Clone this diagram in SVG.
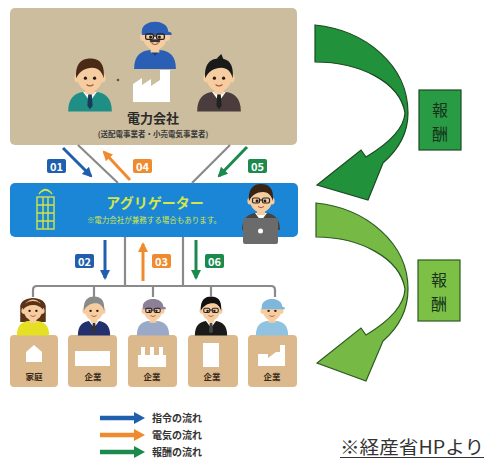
<svg xmlns="http://www.w3.org/2000/svg" width="486" height="461" viewBox="0 0 486 461">
  <style>
    text { font-family: "Noto Sans CJK JP", "Noto Sans", sans-serif; }
    .skin { fill: #f6cda0; }
    .eye { fill: #2a1a10; }
    .mouth { fill: none; stroke: #b0503a; stroke-width: 1; }
    .gline { stroke: #8a8a8a; stroke-width: 2.2; fill: none; }
    .tag-t { fill: #fff; font-size: 11px; font-weight: 700; text-anchor: middle; }
    .lbl { fill: #3a2a1a; font-size: 8.5px; font-weight: 700; text-anchor: middle; }
    .leg { fill: #333; font-size: 10px; font-weight: 700; }
    .reward { fill: #15321a; font-size: 16px; text-anchor: middle; }
    .site { fill: #dbb98d; }
    .icon { fill: #fff; }
  </style>
  <defs>
    <marker id="ah-blue" viewBox="0 0 10 10" refX="8" refY="5" markerWidth="10" markerHeight="10" markerUnits="userSpaceOnUse" orient="auto"><path d="M0,0 L10,5 L0,10 Z" fill="#1f5fae"/></marker>
    <marker id="ah-orange" viewBox="0 0 10 10" refX="8" refY="5" markerWidth="10" markerHeight="10" markerUnits="userSpaceOnUse" orient="auto"><path d="M0,0 L10,5 L0,10 Z" fill="#ef8a2e"/></marker>
    <marker id="ah-green" viewBox="0 0 10 10" refX="8" refY="5" markerWidth="10" markerHeight="10" markerUnits="userSpaceOnUse" orient="auto"><path d="M0,0 L10,5 L0,10 Z" fill="#1b8a4c"/></marker>
    <!-- generic head + shoulders, head centred on 0,0 -->
    <g id="face">
      <rect class="skin" x="-4" y="8" width="8" height="7"/>
      <ellipse class="skin" cx="-11" cy="1" rx="2.6" ry="3.6"/>
      <ellipse class="skin" cx="11" cy="1" rx="2.6" ry="3.6"/>
      <ellipse class="skin" cx="0" cy="0" rx="11" ry="12.5"/>
      <circle class="eye" cx="-4" cy="1" r="1.4"/>
      <circle class="eye" cx="4" cy="1" r="1.4"/>
      <path class="mouth" d="M-3,6.5 Q0,9 3,6.5"/>
    </g>
    <path id="shoulders" d="M-19,30 C-19,18 -13,14 -6,13 L6,13 C13,14 19,18 19,30 Z"/>
    <path id="collar" d="M-6,13 L0,21 L6,13 Z" fill="#fff"/>
    <path id="tie" d="M-1.5,15 L1.5,15 L2.3,25 L0,28 L-2.3,25 Z"/>
    <path id="hair-short" d="M-12,1 C-13,-13 -6,-16 0,-16 C8,-16 13,-12 12,1 C10,-5 7,-8 2,-8 C-4,-8 -9,-5 -12,1 Z"/>
    <path id="cap" d="M-12,-4 C-12,-16 12,-16 12,-4 L15,-3 L15,-1 L-12,-1 Z"/>
    <g id="glasses" fill="none" stroke="#222" stroke-width="1.2">
      <rect x="-8.5" y="-2" width="7" height="5" rx="1.5"/>
      <rect x="1.5" y="-2" width="7" height="5" rx="1.5"/>
      <path d="M-1.5,0 L1.5,0"/>
    </g>
  </defs>

  <rect width="486" height="461" fill="#fff"/>

  <!-- power company -->
  <g id="power-company">
    <rect x="10" y="8" width="287" height="137" rx="5" fill="#ccbd9e"/>
    <!-- field worker -->
    <g transform="translate(155,36) scale(1.1)">
      <use href="#shoulders" fill="#2a5fb5"/>
      <path d="M-5,13 L0,18 L5,13 Z" fill="#1c3f80"/>
      <use href="#face"/>
      <use href="#cap" fill="#2a5fb5"/>
      <use href="#glasses"/>
      <path d="M-5,4 Q0,2 5,4 L4,6 Q0,5 -4,6 Z" fill="#333"/>
    </g>
    <!-- factory -->
    <path d="M133,102 L133,84 L142,78 L142,85 L151,79 L151,86 L160,80 L160,70 L170,70 L170,102 Z" fill="#fff"/>
    <circle cx="118" cy="80" r="1.3" fill="#555"/>
    <!-- staff left -->
    <g transform="translate(90,77) scale(1.15)">
      <use href="#shoulders" fill="#1f8f86"/>
      <use href="#collar"/>
      <use href="#tie" fill="#1a3a5a"/>
      <use href="#face"/>
      <use href="#hair-short" fill="#4a2a14"/>
    </g>
    <!-- staff right -->
    <g transform="translate(219,77) scale(1.15)">
      <use href="#shoulders" fill="#4b3d3d"/>
      <use href="#collar"/>
      <use href="#tie" fill="#222"/>
      <use href="#face"/>
      <use href="#hair-short" fill="#1a1a1a"/>
      <path d="M-2,-16 L2,-20 L4,-15 Z" fill="#1a1a1a"/>
    </g>
    <text x="153" y="123" text-anchor="middle" font-size="13" font-weight="700" fill="#2a2a2a">電力会社</text>
    <text x="153" y="137" text-anchor="middle" font-size="7.5" font-weight="700" fill="#3a3a3a">(送配電事業者・小売電気事業者)</text>
  </g>

  <!-- aggregator -->
  <g id="aggregator">
    <rect x="10" y="183" width="288" height="54" rx="5" fill="#1b86d5"/>
    <!-- office building -->
    <g fill="none" stroke="#cfe34a" stroke-width="1.4">
      <rect x="37" y="197" width="17" height="32"/>
      <path d="M37,205 H54 M37,213 H54 M37,221 H54 M43,197 V229 M48,197 V229"/>
      <path d="M41,192 Q45.5,188 50,192 M39,194 Q45.5,185 52,194"/>
    </g>
    <text x="155" y="208" text-anchor="middle" font-size="14" font-weight="700" fill="#d3e64a">アグリゲーター</text>
    <text x="154" y="223" text-anchor="middle" font-size="7.5" fill="#d3e64a">※電力会社が兼務する場合もあります。</text>
    <!-- consultant with laptop -->
    <g transform="translate(261,200)">
      <use href="#shoulders" fill="#444"/>
      <use href="#collar"/>
      <use href="#face"/>
      <use href="#hair-short" fill="#3a2414"/>
      <use href="#glasses" stroke="#8a4a1a"/>
    </g>
    <rect x="243" y="218" width="35" height="26" rx="2" fill="#6b6b6b"/>
    <circle cx="260.5" cy="231" r="2.5" fill="#fff"/>
  </g>

  <!-- consumers -->
  <g id="household">
    <rect class="site" x="10" y="335" width="48" height="52" rx="4"/>
    <path class="icon" d="M26,362 L26,352 L34,345 L42,352 L42,362 Z"/>
    <g transform="translate(33,310) scale(0.85)">
      <path d="M-15,-2 C-17,-18 17,-18 15,-2 L15,14 L-15,14 Z" fill="#5a3218"/>
      <use href="#shoulders" fill="#e6e024"/>
      <use href="#face"/>
      <path d="M-12,0 C-12,-14 12,-14 12,0 C8,-7 -6,-9 -12,0 Z" fill="#5a3218"/>
    </g>
    <text class="lbl" x="34" y="380">家庭</text>
  </g>
  <g id="company-1">
    <rect class="site" x="68" y="335" width="49" height="52" rx="4"/>
    <path class="icon" d="M75,366 L75,351 L110,351 L110,366 Z"/>
    <g transform="translate(94,310) scale(0.85)">
      <use href="#shoulders" fill="#23306e"/>
      <use href="#collar"/>
      <use href="#tie" fill="#333"/>
      <use href="#face"/>
      <use href="#hair-short" fill="#8a8a8a"/>
    </g>
    <text class="lbl" x="93" y="380">企業</text>
  </g>
  <g id="company-2">
    <rect class="site" x="128" y="335" width="49" height="52" rx="4"/>
    <path class="icon" d="M138,367 L138,355 L141,355 L141,347 L145,347 L145,355 L150,355 L150,347 L154,347 L154,355 L159,355 L159,347 L163,347 L163,355 L166,355 L166,367 Z"/>
    <g transform="translate(153,310) scale(0.85)">
      <use href="#shoulders" fill="#9aa9c8"/>
      <use href="#face"/>
      <use href="#cap" fill="#8c7f98"/>
      <use href="#glasses"/>
    </g>
    <text class="lbl" x="152" y="380">企業</text>
  </g>
  <g id="company-3">
    <rect class="site" x="188" y="335" width="50" height="52" rx="4"/>
    <path class="icon" d="M203,367 L203,343 L219,343 L219,367 Z"/>
    <g transform="translate(211,310) scale(0.85)">
      <use href="#shoulders" fill="#1a1a1a"/>
      <use href="#collar"/>
      <use href="#tie" fill="#444"/>
      <use href="#face"/>
      <use href="#hair-short" fill="#111"/>
      <use href="#glasses"/>
    </g>
    <text class="lbl" x="212" y="380">企業</text>
  </g>
  <g id="company-4">
    <rect class="site" x="248" y="335" width="49" height="52" rx="4"/>
    <path class="icon" d="M258,366 L258,354 L268,354 L268,358 L276,352 L280,352 L280,345 L285,345 L285,366 Z"/>
    <g transform="translate(272,310) scale(0.85)">
      <use href="#shoulders" fill="#8fc3e0"/>
      <use href="#face"/>
      <use href="#cap" fill="#7db8dc"/>
    </g>
    <text class="lbl" x="272" y="380">企業</text>
  </g>

  <!-- connectors -->
  <g id="connectors">
    <path class="gline" d="M78,145 L118,183 M230,145 L192,183"/>
    <path class="gline" d="M125,237 V286 M183,237 V286"/>
    <path class="gline" d="M33,297 V290 Q33,286 37,286 H271 Q275,286 275,290 V297 M94,286 V297 M153,286 V297 M211,286 V297"/>

    <line x1="63" y1="148" x2="91" y2="176" stroke="#1f5fae" stroke-width="3" marker-end="url(#ah-blue)"/>
    <line x1="130" y1="180" x2="104" y2="152" stroke="#ef8a2e" stroke-width="3" marker-end="url(#ah-orange)"/>
    <line x1="247" y1="147" x2="219" y2="176" stroke="#1b8a4c" stroke-width="3" marker-end="url(#ah-green)"/>
    <line x1="105" y1="240" x2="105" y2="278" stroke="#1f5fae" stroke-width="3" marker-end="url(#ah-blue)"/>
    <line x1="143" y1="281" x2="143" y2="244" stroke="#ef8a2e" stroke-width="3" marker-end="url(#ah-orange)"/>
    <line x1="196" y1="240" x2="196" y2="278" stroke="#1b8a4c" stroke-width="3" marker-end="url(#ah-green)"/>

    <rect x="47" y="159" width="19" height="14" rx="2" fill="#1f5fae"/>
    <text class="tag-t" x="56.5" y="170.5">01</text>
    <rect x="133" y="159" width="19" height="14" rx="2" fill="#ef8a2e"/>
    <text class="tag-t" x="142.5" y="170.5">04</text>
    <rect x="248" y="159" width="19" height="14" rx="2" fill="#1b8a4c"/>
    <text class="tag-t" x="257.5" y="170.5">05</text>
    <rect x="75" y="254" width="19" height="14" rx="2" fill="#1f5fae"/>
    <text class="tag-t" x="84.5" y="265.5">02</text>
    <rect x="152" y="254" width="19" height="14" rx="2" fill="#ef8a2e"/>
    <text class="tag-t" x="161.5" y="265.5">03</text>
    <rect x="205" y="254" width="19" height="14" rx="2" fill="#1b8a4c"/>
    <text class="tag-t" x="214.5" y="265.5">06</text>
  </g>

  <!-- legend -->
  <g id="legend">
    <line x1="100" y1="418" x2="136" y2="418" stroke="#1f5fae" stroke-width="4.5"/>
    <path d="M134,412 L145,418 L134,424 Z" fill="#1f5fae"/>
    <text class="leg" x="152" y="422">指令の流れ</text>
    <line x1="100" y1="435" x2="136" y2="435" stroke="#ef8a2e" stroke-width="4.5"/>
    <path d="M134,429 L145,435 L134,441 Z" fill="#ef8a2e"/>
    <text class="leg" x="152" y="439">電気の流れ</text>
    <line x1="100" y1="452" x2="136" y2="452" stroke="#1b8a4c" stroke-width="4.5"/>
    <path d="M134,446 L145,452 L134,458 Z" fill="#1b8a4c"/>
    <text class="leg" x="152" y="456">報酬の流れ</text>
  </g>

  <!-- reward flow arrows -->
  <g id="reward-upper">
    <path d="M315,25 C365,30 408,65 408,113 C408,135 398,150 383,163 L368,200 L317,185 L361,150 L366,157 C386,145 404,130 405,113 C400,82 360,62 315,62 Z" fill="#22913c" stroke="#1c4a22" stroke-width="1.2"/>
    <rect x="419" y="90" width="42" height="60" fill="#2a9b45" stroke="#1c4a22" stroke-width="1.2"/>
    <text class="reward" x="440" y="115.5">報</text>
    <text class="reward" x="440" y="139.5">酬</text>
  </g>
  <g id="reward-lower">
    <path d="M316,203 C366,208 408,243 408,289 C408,312 398,328 383,341 L366,381 L317,363 L361,328 L366,335 C386,323 404,308 405,289 C400,258 360,237 316,237 Z" fill="#76b944" stroke="#2c5a22" stroke-width="1.2"/>
    <rect x="418" y="260" width="42" height="61" fill="#7cc146" stroke="#2c5a22" stroke-width="1.2"/>
    <text class="reward" x="439" y="285.5">報</text>
    <text class="reward" x="439" y="309.5">酬</text>
  </g>

  <g id="source">
    <text x="340" y="454" font-size="18" fill="#333" textLength="144" lengthAdjust="spacingAndGlyphs">※経産省HPより</text>
    <line x1="340" y1="457.5" x2="484" y2="457.5" stroke="#333" stroke-width="1"/>
  </g>
</svg>
